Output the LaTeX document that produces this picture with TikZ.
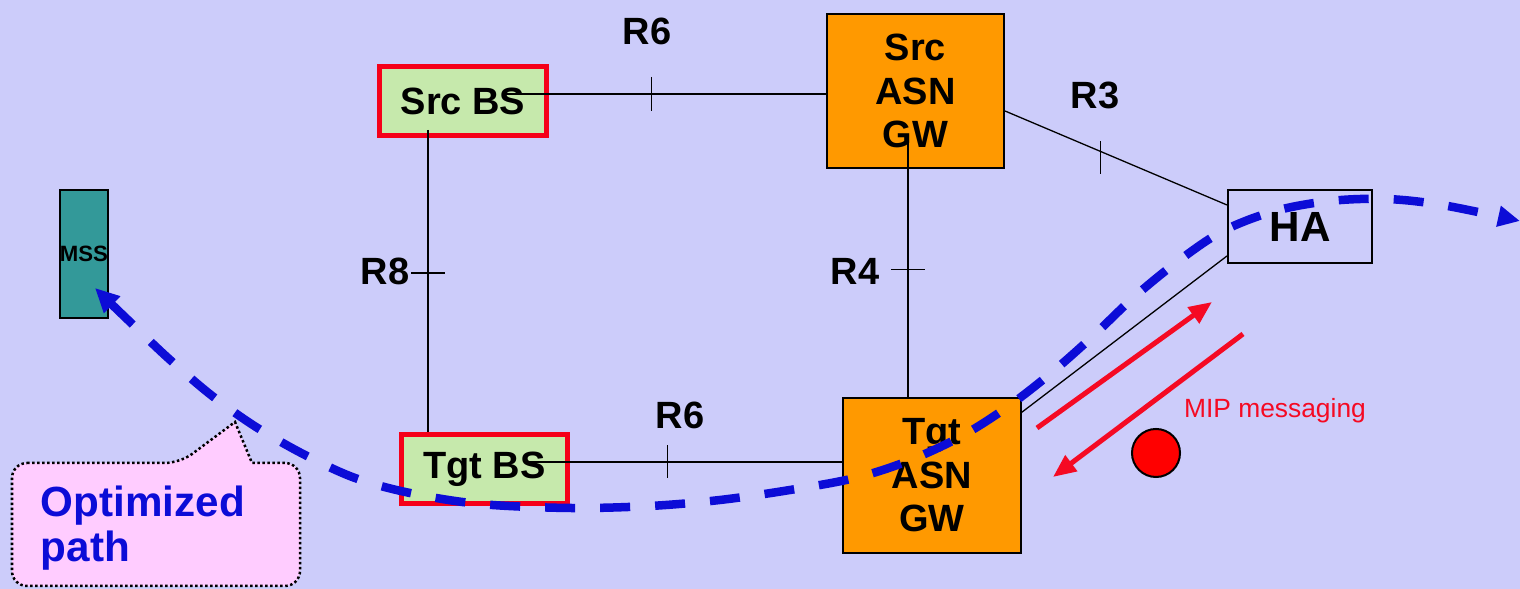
\documentclass[tikz,border=0pt]{standalone}
\usepackage{fontspec}
\setmainfont{Liberation Sans}
\usepackage{xcolor}
\usetikzlibrary{
  positioning,
  arrows.meta
}
\definecolor{bgblue}{RGB}{204,204,250}
\definecolor{bsgreen}{RGB}{198,233,172}
\definecolor{bsred}{RGB}{245,0,25}
\definecolor{gworange}{RGB}{255,153,0}
\definecolor{mssteal}{RGB}{51,153,153}
\definecolor{flowblue}{RGB}{12,12,215}
\definecolor{mipred}{RGB}{245,10,35}
\definecolor{notepink}{RGB}{255,204,255}

\begin{document}
\begin{tikzpicture}[x=0.01cm,y=-0.01cm,
    bs/.style={draw=bsred,line width=0.05cm,fill=bsgreen,minimum width=1.66cm,minimum height=0.69cm,font=\fontsize{10.8}{12}\selectfont\bfseries},
    gw/.style={draw,line width=0.02cm,fill=gworange,minimum width=1.77cm,minimum height=1.54cm,align=center,font=\fontsize{10.8}{12.4}\selectfont\bfseries},
    lbl/.style={inner sep=0pt,font=\fontsize{10.8}{12}\selectfont\bfseries},
    ref/.style={line width=0.013cm},
    mip/.style={draw=mipred,line width=0.05cm,-{Triangle[length=0.23cm,width=0.19cm]}},
    flow/.style={draw=flowblue,line width=0.085cm,dash pattern=on 0.3cm off 0.25cm,
      {Triangle[length=0.24cm,width=0.22cm]}-{Triangle[length=0.22cm,width=0.2cm]}}]
  \useasboundingbox (0,0) rectangle (1520,589);
  \fill[bgblue] (0,0) rectangle (1520,589);

  % network elements
  \node[draw,fill=mssteal,line width=0.02cm,minimum width=0.48cm,minimum height=1.28cm,inner sep=0pt,
    font=\fontsize{6.3}{7}\selectfont\bfseries] (mss) at (84,254) {MSS};
  \node[bs] (srcbs) at (463,101) {Src BS};
  \node[bs] (tgtbs) at (484.5,469) {Tgt BS};
  \node[gw] (srcgw) at (915.5,91) {Src\\ASN\\GW};
  \node[gw] (tgtgw) at (932,475.5) {Tgt\\ASN\\GW};
  \node[draw,line width=0.02cm,minimum width=1.44cm,minimum height=0.73cm,
    font=\fontsize{12}{13}\selectfont\bfseries] (ha) at (1300,226.5) {HA};

  % reference points
  \coordinate (s6) at ([shift={(40,-7)}]srcbs.center);
  \coordinate (s8) at ([shift={(-35,29)}]srcbs.center);
  \coordinate (s4) at ([shift={(-7.5,49)}]srcgw.center);
  \coordinate (t6) at ([shift={(42.5,-7)}]tgtbs.center);

  \draw[ref] (s6) -- coordinate[pos=0.459] (k6a) (s6 -| srcgw.west);
  \draw[ref] (k6a) ++(0,-17) -- ++(0,34);
  \node[lbl] (r6a) at (647,31) {R6};

  \draw[ref] (s8) -- coordinate[pos=0.4735] (k8) (s8 |- tgtbs.north);
  \draw[ref] (k8) ++(-17,0) -- ++(34,0);
  \node[lbl] (r8) at (385,271) {R8};

  \draw[ref] (s4) -- coordinate[pos=0.504] (k4) (s4 |- tgtgw.north);
  \draw[ref] (k4) ++(-17,0) -- ++(34,0);
  \node[lbl] (r4) at (855,271) {R4};

  \draw[ref] ([yshift=-0.2cm]srcgw.east) -- coordinate[pos=0.4286] (k3) ([yshift=0.215cm]ha.west);
  \draw[ref] (k3) ++(0,-10) -- ++(0,33);
  \node[lbl] (r3) at (1095,95) {R3};

  \draw[ref] (t6) -- coordinate[pos=0.445] (k6b) (t6 -| tgtgw.west);
  \draw[ref] (k6b) ++(0,-16.5) -- ++(0,33);
  \node[lbl] (r6b) at (680,415) {R6};

  \draw[ref] ([yshift=-0.15cm]tgtgw.north east) -- ([yshift=0.08cm]ha.south west);

  % MIP signalling
  \coordinate (m1) at (1037,428);
  \coordinate (m2) at (1212,302);
  \coordinate (m3) at (1243,334);
  \coordinate (m4) at (1053,477);
  \draw[mip] (m1) -- (m2);
  \draw[mip] (m3) -- (m4);
  \node[circle,draw,fill=red,line width=0.02cm,minimum size=0.48cm,inner sep=0pt] (dot) at (1156,453) {};
  \node[anchor=base,text=mipred,font=\fontsize{7.5}{9}\selectfont] (miptxt) at (1275,418) {MIP messaging};

  % callout
  \draw[fill=notepink,line width=0.025cm,dash pattern=on 0.025cm off 0.025cm,rounded corners=0.15cm]
    (12,463) -- (180,463) [sharp corners] -- (235,422) -- (252,463) [rounded corners=0.15cm]
    -- (300,463) -- (300,586) -- (12,586) -- cycle;
  \node[text width=2.3cm,align=left,text=flowblue,font=\fontsize{12}{12.8}\selectfont\bfseries] (opt) at (156,528) {Optimized\\path};

  % optimized data path
  \coordinate (far) at (1520,221);
  \draw[flow] plot[smooth,tension=0.55] coordinates {([shift={(11,34)}]mss.center) (128,320) (168,358) (211,395)
    (256,427) (305,455) (355,478) (410,493) (480,504) (570,508) (650,506) (720,500) (790,490) (855,478)
    (908,461) (960,437) (1006,408) (1050,374) (1092,337) (1133,298) (1177,262) (1223,231) (1275,211)
    (1330,201) (1386,199) (1442,205) (far)};
\end{tikzpicture}
\end{document}
